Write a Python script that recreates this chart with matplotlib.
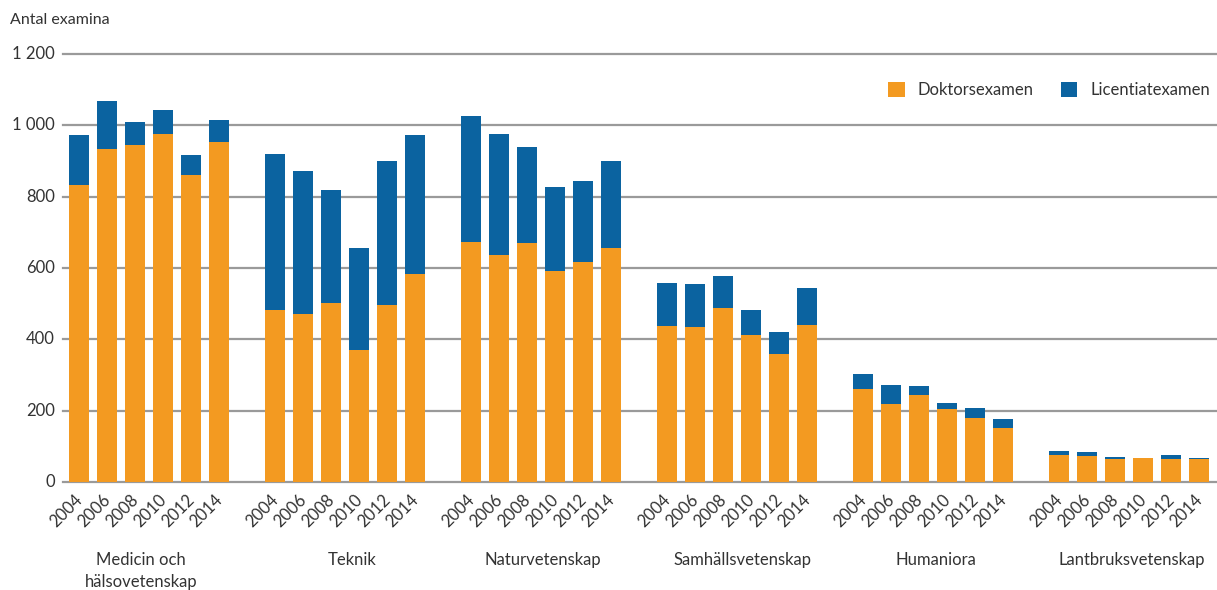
import matplotlib
matplotlib.use("Agg")
import matplotlib.pyplot as plt
import matplotlib.transforms as mtransforms
import numpy as np

plt.rcParams['font.family'] = ['Lato', 'DejaVu Sans']

years = ["2004", "2006", "2008", "2010", "2012", "2014"]
groups = ["Medicin och\nhälsovetenskap", "Teknik", "Naturvetenskap",
          "Samhällsvetenskap", "Humaniora", "Lantbruksvetenskap"]

# Doktorsexamen per group (2004..2014)
doktor_medicin = [834, 935, 946, 975, 862, 952]
doktor_teknik = [482, 471, 501, 370, 496, 582]
doktor_natur = [672, 636, 669, 591, 616, 655]
doktor_samhall = [437, 434, 487, 412, 358, 440]
doktor_human = [260, 219, 244, 204, 179, 151]
doktor_lantbruk = [76, 73, 64, 67, 64, 64]

# Totals (Doktorsexamen + Licentiatexamen)
total_medicin = [972, 1067, 1008, 1044, 916, 1014]
total_teknik = [921, 871, 820, 655, 899, 972]
total_natur = [1025, 977, 938, 826, 843, 899]
total_samhall = [557, 554, 577, 482, 420, 543]
total_human = [302, 272, 269, 221, 207, 176]
total_lantbruk = [87, 84, 70, 67, 76, 67]

# label x-positions (slot units) of group names
group_label_x = [2.21, 9.75, 16.57, 23.68, 30.59, 37.6]

doktor = [doktor_medicin, doktor_teknik, doktor_natur, doktor_samhall, doktor_human, doktor_lantbruk]
total = [total_medicin, total_teknik, total_natur, total_samhall, total_human, total_lantbruk]

ORANGE = "#F39A21"
BLUE = "#0B63A0"
GRID = "#9a9a9a"
TXT = "#333333"

W, H = 1217, 590
fig = plt.figure(figsize=(W / 100, H / 100), dpi=100)
ax_left, ax_right, ax_top, ax_bot = 63, 1217, 54, 482
ax = fig.add_axes([ax_left / W, (H - ax_bot) / H, (ax_right - ax_left) / W, (ax_bot - ax_top) / H])

x = []
d_vals = []
l_vals = []
for g in range(len(groups)):
    for j in range(len(years)):
        x.append(g * 7 + j)
        d_vals.append(doktor[g][j])
        l_vals.append(total[g][j] - doktor[g][j])
x = np.array(x)
d_vals = np.array(d_vals)
l_vals = np.array(l_vals)

b1 = ax.bar(x, d_vals, width=0.72, color=ORANGE, zorder=3, label="Doktorsexamen")
b2 = ax.bar(x, l_vals, bottom=d_vals, width=0.72, color=BLUE, zorder=3, label="Licentiatexamen")

ax.set_xlim(-0.571, 40.64)
ax.set_ylim(0, 1200)
for s in ax.spines.values():
    s.set_visible(False)
for yv in range(0, 1201, 200):
    ax.axhline(yv, color=GRID, lw=1.6, zorder=1, clip_on=False)

ax.set_xticks([])
ax.set_yticks([])

# y tick labels (right-aligned at x = 55 px)
ytr = mtransforms.blended_transform_factory(mtransforms.IdentityTransform(), ax.transData)
for yv in range(0, 1201, 200):
    lab = f"{yv:,}".replace(",", " ")
    ax.text(55, yv, lab, transform=ytr, ha='right', va='center',
            fontsize=12, color=TXT, clip_on=False)

# year labels
off = mtransforms.ScaledTranslation(1 / 100, -15 / 100, fig.dpi_scale_trans)
xt = ax.get_xaxis_transform()
for k, xi in enumerate(x):
    ax.text(xi, 0, years[k % 6], transform=xt + off, rotation=45,
            rotation_mode='anchor', ha='right', va='center',
            fontsize=12, color=TXT, clip_on=False)

# group labels (text top ~552 px)
gy = (ax_bot - 552) / (ax_bot - ax_top)
for gx, name in zip(group_label_x, groups):
    ax.text(gx, gy, name, transform=xt, ha='center', va='top',
            fontsize=12, color=TXT, linespacing=1.45, clip_on=False)

fig.text(10 / W, 1 - 20 / H, "Antal examina", fontsize=11.5, color=TXT,
         ha='left', va='center')

leg = ax.legend(handles=[b1, b2], loc='upper right', ncol=2, frameon=False,
                bbox_to_anchor=(1.0, 0.95), fontsize=12, handlelength=1.0,
                handleheight=1.0, handletextpad=0.8, columnspacing=1.6,
                labelcolor=TXT, borderaxespad=0.0)

fig.savefig("out.png", dpi=100)
